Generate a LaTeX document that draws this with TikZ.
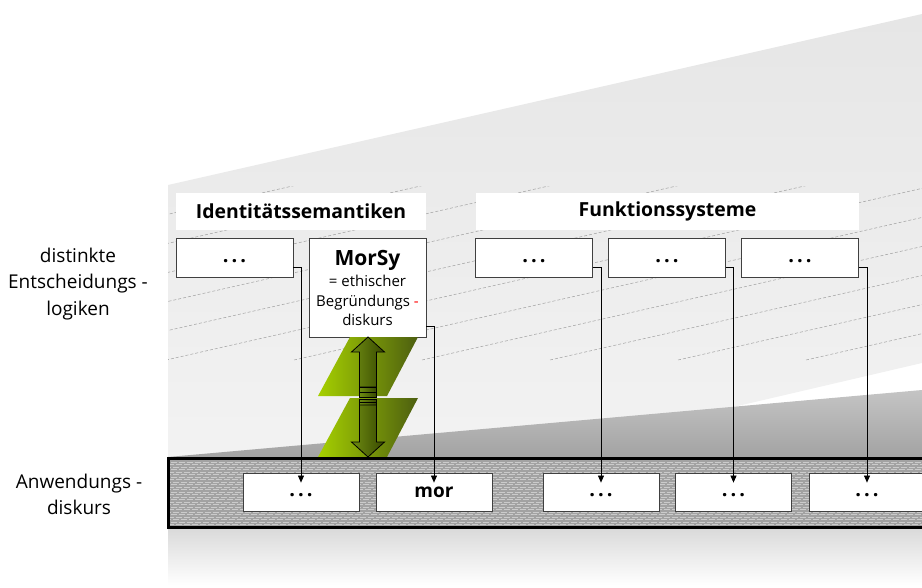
\documentclass[tikz,border=0pt]{standalone}
\usepackage{fontspec}
\setmainfont{Open Sans}
\usetikzlibrary{arrows.meta}
\definecolor{bgtop}{HTML}{E6E6E6}
\definecolor{bgbot}{HTML}{F5F5F5}
\definecolor{wedgetop}{HTML}{C4C4C4}
\definecolor{wedgebot}{HTML}{A2A2A2}
\definecolor{bandfill}{HTML}{A2A2A2}
\definecolor{bandline}{HTML}{CBCBCB}
\definecolor{dashgray}{HTML}{A0A0A0}
\definecolor{grnlight}{HTML}{A6D000}
\definecolor{grndark}{HTML}{4C5E10}
\definecolor{arrlight}{HTML}{6E8C12}
\definecolor{arrdark}{HTML}{384800}
\newcommand{\threedots}{\vphantom{Ag}.\hspace{3pt}.\hspace{3pt}.}
\begin{document}
\begin{tikzpicture}[x=1pt,y=-1pt,
  ubox/.style={draw=black!75, line width=0.8pt, fill=white, minimum width=117pt, minimum height=39pt, inner sep=0pt, font=\fontsize{20}{22}\selectfont\bfseries},
  lbox/.style={draw=black!75, line width=0.8pt, fill=white, minimum width=116pt, minimum height=38pt, inner sep=0pt, font=\fontsize{20}{22}\selectfont\bfseries},
  hdr/.style={fill=white, inner sep=0pt, minimum height=37pt, font=\fontsize{19.4}{22}\selectfont\bfseries},
  conn/.style={draw=black, line width=0.7pt, -{Triangle[length=7pt,width=6pt]}},
  lbl/.style={align=center, font=\fontsize{19}{26.5}\selectfont},
  bgdash/.style={draw=dashgray, line width=0.5pt, dash pattern=on 3pt off 2pt},
  arrowshape/.style={left color=arrlight, right color=arrdark, draw=black, line width=0.8pt},
  greenshape/.style={left color=grnlight, right color=grndark},
]
\useasboundingbox (0,0) rectangle (922,587);

% background
\shade[top color=bgtop, bottom color=bgbot] (168,185) -- (922,14) -- (922,363) -- (168,539) -- cycle;
\shade[top color=wedgetop, bottom color=wedgebot] (168,457) -- (922,390) -- (922,459) -- (168,459) -- cycle;
\shade[top color=black!15, bottom color=white] (168,527) rectangle (922,585);

% dashed perspective lines
\begin{scope}
  \clip (168,186) rectangle (922,360);
  \foreach \k in {-8,...,4}{
    \draw[bgdash] ({422+128*\k},360) -- ({422+128*\k+900},{360-0.227*900});
  }
\end{scope}

% headers
\node[hdr, minimum width=250pt] (h1) at (301,211.5) {Identitätssemantiken};
\node[hdr, minimum width=383pt] (h2) at (667.5,211.5) {Funktionssysteme};

% upper boxes
\node[ubox] (u1) at (234.5,257.5) {\threedots};
\node[ubox, minimum height=99pt, align=center, font=\fontsize{15}{19.5}\selectfont] (ms) at (367.5,288)
  {{\fontsize{21}{24}\selectfont\bfseries MorSy}\\[2pt]= ethischer\\Begründungs \textcolor{red}{-}\\diskurs};
\node[ubox] (ua) at (534,257.5) {\threedots};
\node[ubox] (ub) at (667,257.5) {\threedots};
\node[ubox] (uc) at (800,257.5) {\threedots};

% green shapes and double arrow
\shade[greenshape] (350,337) -- (418,337) -- (387,396) -- (318,396) -- cycle;
\shade[greenshape] (350,398) -- (418,398) -- (387,457) -- (318,457) -- cycle;
\shadedraw[arrowshape] (368,337) -- (384.5,352) -- (376.5,352) -- (376.5,387) -- (359.5,387) -- (359.5,352) -- (351.5,352) -- cycle;
\shadedraw[arrowshape] (359.5,387) rectangle (376.5,392);
\shadedraw[arrowshape] (359.5,392) rectangle (376.5,397);
\shadedraw[arrowshape] (359.5,399) rectangle (376.5,402);
\shadedraw[arrowshape] (359.5,402) rectangle (376.5,405);
\shadedraw[arrowshape] (359.5,405) -- (376.5,405) -- (376.5,442) -- (384.5,442) -- (368,457) -- (351.5,442) -- (359.5,442) -- cycle;

% band
\fill[bandfill] (168,458) rectangle (930,527);
\begin{scope}
  \clip (168,458) rectangle (930,527);
  \foreach \yy [count=\i] in {459.5,462,...,527}{
    \draw[bandline, line width=1pt, dash pattern=on 6pt off 2pt, dash phase={mod(\i,3)*2.7}] (168,\yy) -- (930,\yy);
  }
\end{scope}
\draw[black, line width=3pt] (168,458) rectangle (930,527);

% lower boxes
\node[lbox] (l1) at (301,492) {\threedots};
\node[lbox, font=\fontsize{19}{22}\selectfont\bfseries] (lm) at (434,492) {mor};
\node[lbox] (la) at (601,492) {\threedots};
\node[lbox] (lb) at (733.5,492) {\threedots};
\node[lbox] (lc) at (867,492) {\threedots};

% connectors
\draw[conn] ([yshift=-9.5pt]u1.east) -| ([yshift=-10pt]l1.north);
\draw[conn] ([yshift=-38pt]ms.east) -| ([yshift=-10pt]lm.north);
\draw[conn] ([yshift=-9.5pt]ua.east) -| ([yshift=-10pt]la.north);
\draw[conn] ([yshift=-9.5pt]ub.east) -| ([yshift=-10pt]lb.north);
\draw[conn] ([yshift=-9.5pt]uc.east) -| ([yshift=-10pt]lc.north);

% left labels
\node[lbl] (lab1) at (78,284) {distinkte\\Entscheidungs -\\logiken};
\node[lbl] (lab2) at (79,494.5) {Anwendungs -\\diskurs};
\end{tikzpicture}
\end{document}
